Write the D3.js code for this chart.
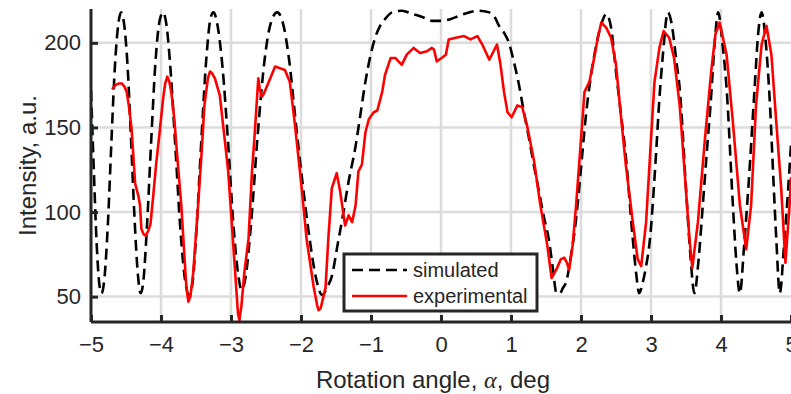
<!DOCTYPE html>
<html>
<head>
<meta charset="utf-8">
<script src="https://cdn.jsdelivr.net/npm/d3@7"></script>
<style>
  body { margin: 0; background: #fff; }
  svg { display: block; font-family: "Liberation Sans", Arial, sans-serif; }
</style>
</head>
<body>
<svg id="chart"></svg>
<script>
// simulated curve (black dashed)
const simX = [-5.00, -4.96, -4.92, -4.88, -4.85, -4.81, -4.76, -4.71, -4.66, -4.61, -4.57, -4.53, -4.48, -4.43, -4.38, -4.33, -4.29, -4.25, -4.20, -4.14,
  -4.08, -4.02, -3.97, -3.92, -3.86, -3.79, -3.72, -3.65, -3.60, -3.55, -3.49, -3.42, -3.35, -3.29, -3.25, -3.20, -3.12, -3.04, -2.97, -2.90,
  -2.85, -2.79, -2.71, -2.62, -2.52, -2.43, -2.34, -2.26, -2.17, -2.08, -1.98, -1.88, -1.78, -1.70, -1.62, -1.56, -1.48, -1.41, -1.32, -1.22,
  -1.15, -1.08, -1.01, -0.94, -0.87, -0.80, -0.70, -0.56, -0.40, -0.25, -0.13, 0.00, 0.13, 0.26, 0.40, 0.54, 0.69, 0.77, 0.83, 0.90,
  0.97, 1.04, 1.11, 1.18, 1.26, 1.33, 1.40, 1.47, 1.54, 1.60, 1.65, 1.70, 1.74, 1.79, 1.86, 1.93, 2.00, 2.07, 2.14, 2.21,
  2.29, 2.36, 2.43, 2.50, 2.57, 2.64, 2.74, 2.79, 2.83, 2.88, 2.93, 2.98, 3.07, 3.12, 3.17, 3.24, 3.30, 3.36, 3.41, 3.50,
  3.56, 3.62, 3.68, 3.74, 3.80, 3.85, 3.91, 3.96, 4.02, 4.08, 4.17, 4.22, 4.27, 4.33, 4.39, 4.48, 4.53, 4.58, 4.64, 4.70,
  4.75, 4.79, 4.84, 4.90, 4.96, 5.00];
const simY = [172, 125, 82, 57, 52, 60, 92, 140, 185, 211, 218, 212, 188, 145, 98, 63, 52, 60, 92, 142,
  188, 213, 218, 210, 182, 135, 88, 58, 51, 58, 92, 145, 192, 215, 218, 212, 185, 140, 95, 64,
  54, 62, 95, 145, 190, 212, 218, 212, 190, 155, 118, 85, 60, 51, 56, 62, 80, 96, 118, 139,
  158, 177, 192, 203, 210, 214, 218, 219, 217, 215, 213, 213, 214, 216, 218, 219, 218, 215, 210, 206,
  200, 189, 176, 160, 143, 127, 112, 97, 84, 66, 52, 52, 55, 59, 75, 96, 126, 157, 180, 197,
  211, 217, 209, 183, 158, 133, 84, 63, 52, 58, 68, 82, 133, 167, 193, 218, 210, 190, 173, 114,
  76, 52, 72, 104, 137, 163, 200, 218, 200, 173, 104, 70, 52, 80, 114, 173, 205, 218, 200, 163,
  118, 84, 52, 80, 114, 140];

// experimental curve (red)
const expX = [-4.69, -4.65, -4.60, -4.56, -4.52, -4.49, -4.46, -4.42, -4.39, -4.37, -4.32, -4.30, -4.28, -4.25, -4.22, -4.18, -4.15, -4.11, -4.07, -4.02,
  -3.97, -3.94, -3.91, -3.88, -3.85, -3.81, -3.78, -3.71, -3.64, -3.61, -3.58, -3.54, -3.47, -3.42, -3.38, -3.33, -3.30, -3.27, -3.23, -3.16,
  -3.09, -3.04, -2.99, -2.94, -2.90, -2.88, -2.85, -2.81, -2.75, -2.70, -2.66, -2.61, -2.59, -2.56, -2.53, -2.47, -2.42, -2.37, -2.30, -2.23,
  -2.16, -2.09, -1.99, -1.92, -1.82, -1.77, -1.75, -1.72, -1.68, -1.65, -1.61, -1.56, -1.49, -1.44, -1.37, -1.32, -1.27, -1.22, -1.18, -1.13,
  -1.08, -1.03, -0.96, -0.91, -0.84, -0.80, -0.72, -0.65, -0.56, -0.49, -0.39, -0.30, -0.20, -0.13, -0.10, -0.06, 0.07, 0.11, 0.21, 0.33,
  0.42, 0.52, 0.59, 0.69, 0.80, 0.85, 0.90, 0.95, 1.01, 1.09, 1.16, 1.23, 1.33, 1.42, 1.52, 1.58, 1.66, 1.71, 1.76, 1.80,
  1.83, 1.88, 1.93, 2.00, 2.05, 2.12, 2.17, 2.24, 2.29, 2.36, 2.43, 2.50, 2.57, 2.64, 2.74, 2.81, 2.86, 2.93, 3.00, 3.05,
  3.12, 3.18, 3.26, 3.33, 3.41, 3.48, 3.55, 3.59, 3.67, 3.77, 3.86, 3.92, 3.98, 4.08, 4.17, 4.27, 4.36, 4.43, 4.50, 4.58,
  4.65, 4.72, 4.79, 4.86, 4.92, 4.98, 5.00];
const expY = [173, 175, 176, 176, 174, 171, 163, 149, 130, 117, 109, 104, 90, 87, 86, 89, 93, 110, 128, 147,
  167, 176, 180, 177, 170, 155, 139, 104, 57, 47, 50, 64, 104, 135, 163, 179, 183, 182, 179, 169,
  143, 124, 94, 64, 40, 36, 45, 64, 84, 124, 147, 179, 173, 168, 170, 176, 181, 186, 185, 184,
  177, 153, 114, 84, 56, 45, 42, 43, 50, 55, 84, 114, 123, 112, 92, 98, 94, 104, 124, 128,
  147, 155, 159, 160, 171, 181, 191, 191, 187, 193, 197, 194, 195, 197, 196, 189, 193, 202, 203, 204,
  202, 204, 199, 190, 199, 187, 171, 159, 156, 163, 162, 151, 130, 104, 80, 61, 67, 72, 73, 70,
  66, 80, 104, 143, 171, 177, 187, 203, 212, 209, 203, 187, 157, 128, 94, 72, 68, 94, 143, 177,
  197, 207, 203, 191, 163, 124, 84, 67, 94, 143, 183, 205, 212, 193, 153, 104, 78, 104, 163, 199,
  210, 193, 153, 114, 70, 104, 120];

const xTicks = [-5, -4, -3, -2, -1, 0, 1, 2, 3, 4, 5];
const yTicks = [50, 100, 150, 200];
const legendLabels = ["simulated", "experimental"];

const svgWidth = 791, svgHeight = 394;
const margin = { top: 9, right: 0, bottom: 72, left: 91 };
const width = svgWidth - margin.left - margin.right;
const height = svgHeight - margin.top - margin.bottom;
const axisColor = "#262626";

const svg = d3.select("#chart")
  .attr("width", svgWidth)
  .attr("height", svgHeight);

const g = svg.append("g")
  .attr("transform", "translate(" + margin.left + "," + margin.top + ")");

const x = d3.scaleLinear().domain([-5, 5]).range([0, width]);
const y = d3.scaleLinear().domain([35, 220]).range([height, 0]);

// grid
g.append("g")
  .selectAll("line")
  .data(xTicks.slice(1, -1))
  .join("line")
  .attr("x1", d => x(d)).attr("x2", d => x(d))
  .attr("y1", 0).attr("y2", height)
  .attr("stroke", "#dcdcdc").attr("stroke-width", 2.5);

g.append("g")
  .selectAll("line")
  .data(yTicks)
  .join("line")
  .attr("x1", 0).attr("x2", width)
  .attr("y1", d => y(d)).attr("y2", d => y(d))
  .attr("stroke", "#dcdcdc").attr("stroke-width", 2.5);

svg.append("clipPath").attr("id", "clip")
  .append("rect").attr("width", width).attr("height", height);

const plot = g.append("g").attr("clip-path", "url(#clip)");

const simData = simX.map((d, i) => [d, simY[i]]);
const expData = expX.map((d, i) => [d, expY[i]]);

const simLine = d3.line()
  .x(d => x(d[0])).y(d => y(d[1]))
  .curve(d3.curveMonotoneX);
const expLine = d3.line()
  .x(d => x(d[0])).y(d => y(d[1]));

plot.append("path")
  .datum(simData)
  .attr("fill", "none")
  .attr("stroke", "#000")
  .attr("stroke-width", 2.6)
  .attr("stroke-dasharray", "11,6")
  .attr("d", simLine);

plot.append("path")
  .datum(expData)
  .attr("fill", "none")
  .attr("stroke", "#ff0000")
  .attr("stroke-width", 2.6)
  .attr("stroke-linejoin", "round")
  .attr("stroke-linecap", "round")
  .attr("d", expLine);

// axes
const xAxis = g.append("g")
  .attr("transform", "translate(0," + height + ")")
  .call(d3.axisBottom(x).tickValues(xTicks).tickSize(-7).tickPadding(14)
    .tickFormat(d => d < 0 ? "\u2212" + Math.abs(d) : d));
const yAxis = g.append("g")
  .call(d3.axisLeft(y).tickValues(yTicks).tickSize(-7).tickPadding(10));

[xAxis, yAxis].forEach(a => {
  a.select(".domain").attr("stroke", axisColor).attr("stroke-width", 3);
  a.selectAll(".tick line").attr("stroke", axisColor).attr("stroke-width", 3);
  a.selectAll(".tick text").attr("fill", axisColor)
    .style("font-size", "22px").style("font-family", "'Liberation Sans', Arial, sans-serif");
});
xAxis.select(".domain").attr("d", "M0,0H" + width);
yAxis.select(".domain").attr("d", "M0,0V" + height);

// axis labels
const xl = svg.append("text")
  .attr("x", margin.left + width / 2 - 8)
  .attr("y", 388)
  .attr("text-anchor", "middle")
  .attr("fill", axisColor)
  .style("font-size", "24px");
xl.append("tspan").text("Rotation angle, ");
xl.append("tspan").text("\u03b1").style("font-style", "italic").style("font-family", "'Liberation Serif', serif");
xl.append("tspan").text(", deg");

svg.append("text")
  .attr("transform", "translate(36," + (margin.top + height / 2) + ") rotate(-90)")
  .attr("text-anchor", "middle")
  .attr("fill", axisColor)
  .style("font-size", "24px")
  .text("Intensity, a.u.");

// legend
const lg = svg.append("g").attr("transform", "translate(344,254)");
lg.append("rect")
  .attr("width", 193).attr("height", 57)
  .attr("fill", "#fff")
  .attr("stroke", axisColor).attr("stroke-width", 3);

const rows = lg.selectAll("g.row")
  .data(legendLabels)
  .join("g")
  .attr("class", "row")
  .attr("transform", (d, i) => "translate(0," + (16 + i * 26) + ")");

rows.append("line")
  .attr("x1", 8).attr("x2", 63)
  .attr("stroke", (d, i) => i === 0 ? "#000" : "#ff0000")
  .attr("stroke-width", 2.6)
  .attr("stroke-dasharray", (d, i) => i === 0 ? "11,6" : null);

rows.append("text")
  .attr("x", 69).attr("y", 7)
  .attr("fill", axisColor)
  .style("font-size", "20px")
  .text(d => d);
</script>
</body>
</html>
